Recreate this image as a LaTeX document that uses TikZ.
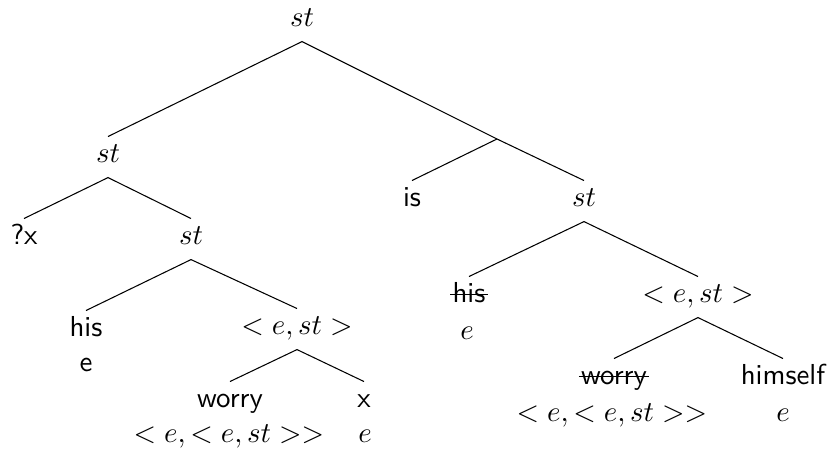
\documentclass[11pt,tikz,border=0pt]{standalone}
\begin{document}
\begin{tikzpicture}[x=0.379pt,y=-0.379pt,
  lbl/.style={anchor=base,inner xsep=2pt,inner ysep=3.33pt,text height=6.5pt,text depth=2pt},
  word/.style={lbl,font=\sffamily},
  typ/.style={anchor=base,inner sep=0pt},
  branch/.style={draw=black,line width=0.4pt},
  strike/.style={draw=black,line width=0.5pt}]
\useasboundingbox (0,0) rectangle (829,450);
% nodes
\node[lbl] (root) at (302,27) {$st$};
\node[lbl] (L) at (108,163) {$st$};
\coordinate (R) at (497,139);
\node[word] (qx) at (24,245) {?x};
\node[lbl] (LR) at (191,245) {$st$};
\node[word] (his1) at (86,337) {his};
\node[typ,font=\sffamily] (his1t) at (86,372) {e};
\node[lbl] (LRR) at (297,335) {$< e, st >$};
\node[word] (wor1) at (230,408) {worry};
\node[typ] (wor1t) at (229,443) {$< e, < e, st >>$};
\node[word] (x1) at (364,408) {x};
\node[typ] (x1t) at (365,443) {$e$};
\node[word] (is) at (412,207) {is};
\node[lbl] (RR) at (584,207) {$st$};
\node[word] (his2) at (469,303) {his};
\node[typ] (his2t) at (467,340) {$e$};
\node[lbl] (RRR) at (698,303) {$< e, st >$};
\node[word] (wor2) at (614,385) {worry};
\node[typ] (wor2t) at (612,422) {$< e, < e, st >>$};
\node[word] (him) at (783,385) {himself};
\node[typ] (himt) at (783,422) {$e$};
% strike-through
\draw[strike] ([xshift=1.3pt,yshift=3.2pt]his2.base west) -- ([xshift=-1.3pt,yshift=3.2pt]his2.base east);
\draw[strike] ([xshift=1.3pt,yshift=3.2pt]wor2.base west) -- ([xshift=-1.3pt,yshift=3.2pt]wor2.base east);
% connectors
\draw[branch] (L.north) -- (root.south) -- (R);
\draw[branch] (is.north) -- (R) -- (RR.north);
\draw[branch] (qx.north) -- (L.south) -- (LR.north);
\draw[branch] (his1.north) -- (LR.south) -- (LRR.north);
\draw[branch] (wor1.north) -- (LRR.south) -- (x1.north);
\draw[branch] (his2.north) -- (RR.south) -- (RRR.north);
\draw[branch] (wor2.north) -- (RRR.south) -- (him.north);
\end{tikzpicture}
\end{document}
